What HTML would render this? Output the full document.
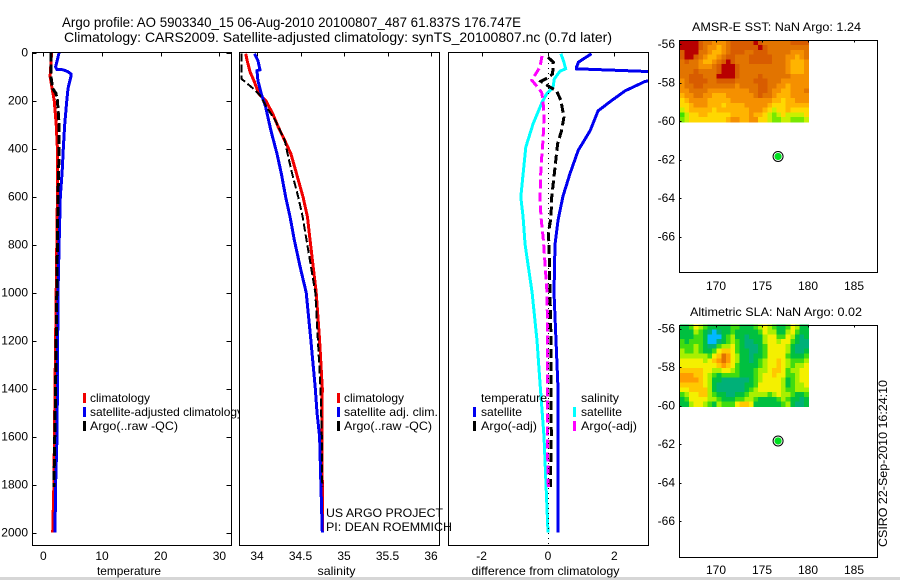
<!DOCTYPE html>
<html>
<head>
<meta charset="utf-8">
<title>Argo profile 5903340_15</title>
<style>
html,body{margin:0;padding:0;background:#fff;width:900px;height:580px;overflow:hidden}
svg{display:block}
text{font-family:"Liberation Sans",sans-serif;font-size:12px;fill:#000}
</style>
</head>
<body>
<svg id="figure" xmlns="http://www.w3.org/2000/svg" width="900" height="580" viewBox="0 0 900 580">
<rect x="0" y="0" width="900" height="580" fill="#fff"/>
<rect x="0" y="577" width="900" height="3" fill="#d6d6d6"/>
<defs>
<clipPath id="clip-temp"><rect x="33" y="53" width="198" height="492"/></clipPath>
<clipPath id="clip-sal"><rect x="240" y="53" width="199" height="492"/></clipPath>
<clipPath id="clip-diff"><rect x="449" y="53" width="199" height="492"/></clipPath>
</defs>
<g id="layer"></g>
<text x="62" y="27" style="font-size:14px" textLength="459" lengthAdjust="spacingAndGlyphs">Argo profile: AO 5903340_15 06-Aug-2010 20100807_487 61.837S 176.747E</text>
<text x="64" y="42" style="font-size:14px" textLength="548" lengthAdjust="spacingAndGlyphs">Climatology: CARS2009. Satellite-adjusted climatology: synTS_20100807.nc (0.7d later)</text>
<text x="326" y="517" textLength="117" lengthAdjust="spacingAndGlyphs">US ARGO PROJECT</text>
<text x="326" y="531" textLength="126" lengthAdjust="spacingAndGlyphs">PI: DEAN ROEMMICH</text>
<text transform="translate(887,547) rotate(-90)" textLength="167" lengthAdjust="spacingAndGlyphs">CSIRO 22-Sep-2010 16:24:10</text>
</svg>
<script>
// ---- profile data (depth in metres) ----
const depthTicks = [0,200,400,600,800,1000,1200,1400,1600,1800,2000];
const tempTicks = [0,10,20,30];
const salTicks = [34,34.5,35,35.5,36];
const salTickLabels = ['34','34.5','35','35.5','36'];
const diffTicks = [-2,0,2];
const lonTicks = [170,175,180,185];
const latTicks = [-56,-58,-60,-62,-64,-66];

const tempClimDepth = [0,50,100,150,200,300,400,600,1000,1400,1800,2000];
const tempClim = [1.4,1.3,1.15,1.5,1.85,2.2,2.4,2.4,2.2,2.0,1.8,1.6];
const tempSatDepth = [0,30,60,70,72,80,90,100,150,200,300,400,500,600,800,1000,1400,1600,1800,2000];
const tempSat = [2.7,2.4,2.1,2.3,3.4,4.2,4.75,4.7,4.2,4.0,3.65,3.4,3.2,2.9,2.7,2.5,2.4,2.33,2.1,2.0];
const tempArgoDepth = [0,100,150,170,200,300,400,500,600,1000,1400,1810];
const tempArgo = [1.3,1.3,1.6,2.15,2.4,2.7,2.7,2.6,2.5,2.3,2.1,1.8];

const salClimDepth = [5,38,80,122,172,200,255,311,367,422,506,603,686,783,1000,1200,1400,1600,1800,2000];
const salClim = [33.87,33.89,33.92,33.97,34.02,34.10,34.18,34.245,34.32,34.39,34.455,34.53,34.58,34.61,34.68,34.72,34.75,34.745,34.75,34.75];
const salSatDepth = [5,33,72,76,117,172,228,325,422,506,603,686,783,900,1000,1200,1400,1500,1600,1800,2000];
const salSat = [33.97,34.01,34.035,34.0,34.01,34.05,34.10,34.16,34.23,34.28,34.33,34.38,34.43,34.50,34.565,34.62,34.67,34.69,34.72,34.735,34.75];
const salArgoDepth = [5,110,118,150,178,228,283,367,436,506,603,686,783,1000,1200,1400,1600,1810];
const salArgo = [33.82,33.82,33.85,33.955,34.035,34.11,34.21,34.32,34.36,34.405,34.475,34.525,34.57,34.67,34.70,34.73,34.745,34.75];

const diffTempDepth = [5,40,60,68,79,95,118,122,160,200,243,325,408,506,600,700,800,1000,1200,1400,1600,2000];
const diffTemp = [1.31,0.92,0.86,0.86,3.0,5,3.0,2.9,2.32,1.92,1.51,1.27,0.91,0.66,0.45,0.3,0.21,0.18,0.24,0.3,0.3,0.3];
const diffSalDepth = [5,40,68,78,110,146,172,208,297,394,506,603,686,800,1000,1200,1400,1600,1800,2000];
const diffSal = [0.39,0.48,0.53,0.36,0.19,0.15,-0.04,-0.18,-0.45,-0.67,-0.75,-0.82,-0.75,-0.69,-0.48,-0.33,-0.23,-0.12,-0.06,0];
const diffArgoTempDepth = [20,40,89,105,120,140,160,200,270,325,380,506,603,686,755,800,1000,1200,1400,1600,1810];
const diffArgoTemp = [0,0.16,0.14,0.0,-0.21,0.01,0.26,0.39,0.48,0.41,0.29,0.19,0.11,0.09,0.01,0.03,0.06,0.09,0.09,0.1,0.07];
const diffArgoSalDepth = [14,60,89,115,140,167,200,270,367,436,506,603,686,783,1000,1200,1400,1600,1810];
const diffArgoSal = [-0.18,-0.24,-0.37,-0.49,-0.34,-0.19,-0.15,-0.12,-0.15,-0.19,-0.22,-0.24,-0.21,-0.14,-0.03,-0.01,-0.01,-0.02,0.01];

const floatLon = 176.747;
const floatLat = -61.837;

// ---- satellite grids: colour level per cell, rows north to south ----
const sstGrid = [
[10,10,10,10,9,8,8,7,7,7,8,9,9,9,9,9,10,9,8,8,8,8,8,8,9,9,9,9],
[10,10,10,10,9,8,7,7,6,7,8,9,9,9,9,9,9,10,9,8,8,8,8,8,8,8,8,8],
[9,10,10,10,8,8,7,6,6,7,8,9,9,9,8,8,9,9,9,8,8,8,8,8,7,7,7,8],
[9,10,10,9,8,7,6,6,7,8,9,9,8,8,8,9,9,9,9,9,8,8,8,7,7,6,7,8],
[8,9,8,8,7,6,6,7,8,9,10,9,8,8,8,9,9,9,9,9,8,8,8,7,6,6,6,7],
[8,8,8,8,7,7,7,8,9,10,10,10,9,8,8,8,8,8,8,8,8,8,8,7,6,6,6,7],
[8,8,8,9,8,8,8,8,9,10,10,10,9,8,8,8,8,8,8,8,8,8,8,7,6,6,6,7],
[8,8,9,9,9,8,8,8,10,10,10,10,9,8,8,8,8,9,8,8,8,8,8,8,7,7,7,7],
[7,8,9,9,9,9,8,8,9,9,9,9,8,8,8,8,9,9,9,8,8,8,7,7,7,7,7,7],
[7,8,8,9,9,8,8,8,8,8,8,8,7,8,8,8,8,9,9,8,8,7,7,6,7,7,7,7],
[7,7,8,8,8,8,7,7,7,7,7,7,7,7,7,8,8,9,9,8,7,7,6,6,7,7,7,8],
[6,7,7,8,8,7,7,6,6,6,7,7,7,7,7,7,8,9,8,8,7,6,6,6,7,7,7,7],
[5,6,7,7,7,7,6,6,6,6,6,7,7,7,7,7,7,7,7,7,6,6,5,6,6,7,7,7],
[5,5,6,7,7,7,6,6,6,5,6,6,6,6,7,7,7,7,7,6,5,5,5,6,6,6,6,6],
[4,5,6,6,6,6,6,5,6,6,6,6,6,6,6,7,7,7,6,5,4,5,5,6,5,5,5,5],
[2,4,5,5,6,6,5,5,5,5,5,6,6,6,6,7,6,6,5,4,3,4,5,4,4,4,4,5],
[3,4,5,5,5,5,5,5,5,5,6,7,7,6,6,7,7,5,5,4,3,3,4,4,3,3,3,4]
];
const slaGrid = [
[2,2,3,5,4,3,2,2,2,2,2,3,3,2,2,2,3,4,5,4,3,2,2,3,5,4,2,2],
[2,2,2,4,3,2,1,0,1,2,2,3,2,2,2,2,2,3,5,4,4,2,2,4,5,3,2,2],
[2,2,2,3,3,2,0,0,0,2,3,4,2,2,1,2,2,2,4,5,5,3,3,5,4,2,1,2],
[3,2,3,3,3,2,0,0,1,2,3,4,3,2,1,1,2,2,4,5,5,4,5,5,3,2,1,1],
[3,3,3,4,3,2,1,1,3,4,4,5,3,2,1,1,1,2,3,5,5,5,5,4,2,1,1,1],
[4,3,3,4,3,2,2,3,5,6,6,5,3,2,2,1,1,2,3,5,5,5,5,4,2,1,1,2],
[4,4,4,4,4,4,3,5,6,8,7,5,4,2,2,1,2,2,3,5,5,5,5,3,2,2,2,3],
[5,5,5,5,5,4,5,6,7,8,7,5,4,2,2,1,2,3,4,5,5,6,5,4,3,3,3,4],
[5,5,5,5,5,5,5,5,6,7,6,5,3,2,2,2,2,3,4,5,5,6,5,4,3,4,4,5],
[6,6,6,6,6,5,5,4,4,5,5,4,3,2,2,2,3,4,4,5,6,6,5,3,4,4,5,5],
[7,7,7,6,6,5,4,3,2,3,3,3,3,2,2,2,3,4,5,5,6,5,5,3,3,4,5,5],
[7,7,7,7,6,5,4,2,2,1,1,1,1,1,1,2,3,4,5,5,5,5,4,2,3,4,5,5],
[6,6,6,6,6,5,4,2,1,1,1,1,1,1,2,2,3,5,5,5,5,5,4,2,3,4,4,5],
[5,5,6,6,6,6,4,2,1,1,1,1,1,1,2,3,4,5,5,5,5,5,4,3,3,4,4,4],
[3,4,5,5,6,6,4,3,2,2,1,1,2,2,3,4,4,4,4,3,4,5,4,4,3,2,2,3],
[2,3,5,5,5,5,4,4,3,2,2,2,3,3,4,4,3,2,2,2,2,3,4,3,2,2,1,2],
[2,2,4,5,5,4,3,2,4,3,3,3,5,6,6,5,2,2,2,2,2,2,3,4,2,1,1,2]
];
const slaColors = ['#00b8ff','#00b078','#00c040','#40dc10','#a8f000','#f4f000','#ffc800','#ff9c00','#e27200','#d24a00','#b40000'];
const sstColors = ['#00b8ff','#00b078','#40e000','#78e800','#c8f000','#ffd800','#ffb400','#f59000','#e27400','#d85c00','#b80000'];
const gridLonStart = 166.08;
const gridLonStep = 0.5;
const gridLatStart = -55.8;
const gridLatStep = -0.25;

// ---- scales ----
const SVGNS = 'http://www.w3.org/2000/svg';
const layer = document.getElementById('layer');
const yDepth = d => 52.5 + 0.24 * d;
const xTemp = v => 43.3 + 5.87 * v;
const xSal = v => 257 + 87 * (v - 34);
const xDiff = v => 548 + 33.2 * v;
const xLon = v => 716 + 9.2 * (v - 170);
const yLatMap1 = v => 44 + 19.27 * (-56 - v);
const yLatMap2 = v => 328.5 + 19.27 * (-56 - v);

function mk(tag, attrs, parent, txt) {
  const el = document.createElementNS(SVGNS, tag);
  for (const k in attrs) el.setAttribute(k, attrs[k]);
  if (txt !== undefined) el.textContent = txt;
  (parent || layer).appendChild(el);
  return el;
}
function linePath(xs, ds, xf) {
  return ds.map((d, i) => (i ? 'L' : 'M') + xf(xs[i]).toFixed(1) + ' ' + yDepth(d).toFixed(1)).join('');
}
function seg(x1, y1, x2, y2, parent) {
  const el = mk('line', {x1, y1, x2, y2, stroke: '#000', 'stroke-width': 1, 'shape-rendering': 'crispEdges'}, parent);
  return el;
}

function profilePanel(name, x0, x1, clipId, xf, xTicks, xLabels, xTitle, titleWidth, showDepth, series, legend) {
  const g = mk('g', {});
  
  
  const bg = mk('rect', {x: x0, y: 52.5, width: x1 - x0, height: 493, fill: '#fff'}, g);
  
  
  if (showDepth) {
    depthTicks.forEach(d => {
      const y = Math.round(yDepth(d)) + 0.5;
      const tl = seg(x0, y, x0 + 4, y, g);
      
      
      const tr = seg(x1 - 5, y, x1, y, g);
      
      
      const lab = mk('text', {x: 28, y: yDepth(d) + 4, 'text-anchor': 'end'}, g, String(d));
      
      
    });
  }
  xTicks.forEach((t, i) => {
    const x = Math.round(xf(t)) + 0.5;
    const tk = seg(x, 52.5, x, 56.5, g);
    
    
    const lab = mk('text', {x: xf(t), y: 560, 'text-anchor': 'middle'}, g, xLabels[i]);
    
    
  });
  const title = mk('text', {x: (x0 + x1) / 2 - 3, y: 575, 'text-anchor': 'middle', textLength: titleWidth, lengthAdjust: 'spacingAndGlyphs'}, g, xTitle);
  
  
  const plot = mk('g', {'clip-path': 'url(#' + clipId + ')'}, g);
  
  
  series.forEach(s => {
    const p = mk('path', {d: linePath(s.vals, s.depth, xf), fill: 'none', stroke: s.color, 'stroke-width': s.w, 'stroke-dasharray': s.dash || 'none', 'stroke-linejoin': 'miter', 'shape-rendering': 'crispEdges'}, plot);
    
    
  });
  const frame = mk('rect', {x: x0, y: 52.5, width: x1 - x0, height: 493, fill: 'none', stroke: '#000', 'stroke-width': 1, 'shape-rendering': 'crispEdges'}, g);
  
  
  legend.forEach(e => {
    if (e.color) {
      const b = mk('rect', {x: e.bx, y: e.y - 9, width: 3, height: 10, fill: e.color}, g);
      
      
    }
    const a = {x: e.tx, y: e.y};
    if (e.len) { a.textLength = e.len; a.lengthAdjust = 'spacingAndGlyphs'; }
    const t = mk('text', a, g, e.text);
    
    
  });
}

function mapPanel(name, top, bottom, yLat, grid, palette, titleText, titleX, titleW, titleY, labelY) {
  const g = mk('g', {});
  
  
  const hm = mk('g', {'shape-rendering': 'crispEdges'}, g);
  
  
  grid.forEach((row, r) => row.forEach((v, c) => {
    const x = xLon(gridLonStart + c * gridLonStep);
    const xn = xLon(gridLonStart + (c + 1) * gridLonStep);
    const y = yLat(gridLatStart + r * gridLatStep);
    const yn = yLat(gridLatStart + (r + 1) * gridLatStep);
    const cell = mk('rect', {x: x.toFixed(2), y: y.toFixed(2), width: (xn - x + 0.4).toFixed(2), height: (yn - y + 0.4).toFixed(2), fill: palette[v]}, hm);
    
    
  }));
  const frame = mk('rect', {x: 679.5, y: top, width: 198, height: bottom - top, fill: 'none', stroke: '#000', 'stroke-width': 1, 'shape-rendering': 'crispEdges'}, g);
  
  
  lonTicks.forEach(t => {
    const x = Math.round(xLon(t)) + 0.5;
    const tk = seg(x, top, x, top + 2, g);
    
    
    const lab = mk('text', {x: xLon(t), y: labelY, 'text-anchor': 'middle'}, g, String(t));
    
    
  });
  latTicks.forEach(t => {
    const y = Math.round(yLat(t)) + 0.5;
    const tk = seg(679.5, y, 681.5, y, g);
    
    
    const lab = mk('text', {x: 675, y: yLat(t) + 4, 'text-anchor': 'end'}, g, String(t));
    
    
  });
  const ttl = mk('text', {x: titleX, y: titleY, textLength: titleW, lengthAdjust: 'spacingAndGlyphs'}, g, titleText);
  
  
  const ring = mk('circle', {cx: xLon(floatLon), cy: yLat(floatLat), r: 5, fill: '#fff', stroke: '#000', 'stroke-width': 1}, g);
  
  
  const dot = mk('circle', {cx: xLon(floatLon), cy: yLat(floatLat), r: 3.6, fill: '#00e020'}, g);
  
  
}

profilePanel('temperature', 32.5, 231.5, 'clip-temp', xTemp, tempTicks, tempTicks.map(String), 'temperature', 64, true, [
  {name: 'temperature-climatology-line', depth: tempClimDepth, vals: tempClim, color: '#f00000', w: 3},
  {name: 'temperature-satellite-line', depth: tempSatDepth, vals: tempSat, color: '#0000f0', w: 3},
  {name: 'temperature-argo-line', depth: tempArgoDepth, vals: tempArgo, color: '#000', w: 3, dash: '9 3'}
], [
  {bx: 83, tx: 90, y: 402, color: '#f00000', text: 'climatology'},
  {bx: 83, tx: 90, y: 416, color: '#0000f0', text: 'satellite-adjusted climatology', len: 153},
  {bx: 83, tx: 90, y: 430, color: '#000', text: 'Argo(..raw -QC)', len: 88}
]);
profilePanel('salinity', 239.5, 439.5, 'clip-sal', xSal, salTicks, salTickLabels, 'salinity', 38, false, [
  {name: 'salinity-climatology-line', depth: salClimDepth, vals: salClim, color: '#f00000', w: 3},
  {name: 'salinity-satellite-line', depth: salSatDepth, vals: salSat, color: '#0000f0', w: 3},
  {name: 'salinity-argo-line', depth: salArgoDepth, vals: salArgo, color: '#000', w: 2, dash: '8 3'}
], [
  {bx: 337, tx: 344, y: 402, color: '#f00000', text: 'climatology'},
  {bx: 337, tx: 344, y: 416, color: '#0000f0', text: 'satellite adj. clim.', len: 94},
  {bx: 337, tx: 344, y: 430, color: '#000', text: 'Argo(..raw -QC)', len: 88}
]);
profilePanel('difference', 448.5, 648.5, 'clip-diff', xDiff, diffTicks, diffTicks.map(String), 'difference from climatology', 148, false, [
  {name: 'temperature-difference-satellite-line', depth: diffTempDepth, vals: diffTemp, color: '#0000f0', w: 3},
  {name: 'salinity-difference-satellite-line', depth: diffSalDepth, vals: diffSal, color: '#00ffff', w: 3},
  {name: 'temperature-difference-argo-line', depth: diffArgoTempDepth, vals: diffArgoTemp, color: '#000', w: 3, dash: '9 4'},
  {name: 'salinity-difference-argo-line', depth: diffArgoSalDepth, vals: diffArgoSal, color: '#ff00ff', w: 3, dash: '9 4'}
], [
  {tx: 481, y: 402, text: 'temperature', len: 66},
  {bx: 473, tx: 481, y: 416, color: '#0000f0', text: 'satellite', len: 41},
  {bx: 473, tx: 481, y: 430, color: '#000', text: 'Argo(-adj)', len: 56},
  {tx: 581, y: 402, text: 'salinity', len: 38},
  {bx: 573, tx: 581, y: 416, color: '#00ffff', text: 'satellite', len: 41},
  {bx: 573, tx: 581, y: 430, color: '#ff00ff', text: 'Argo(-adj)', len: 56}
]);

const zeroLine = mk('line', {x1: 548.5, y1: 53, x2: 548.5, y2: 545, stroke: '#000', 'stroke-width': 1, 'stroke-dasharray': '1 4', 'shape-rendering': 'crispEdges'});



mapPanel('sst-map', 40.5, 272.5, yLatMap1, sstGrid, sstColors, 'AMSR-E SST: NaN  Argo: 1.24', 692, 169, 31, 290);
mapPanel('sla-map', 325.5, 557.5, yLatMap2, slaGrid, slaColors, 'Altimetric SLA: NaN  Argo: 0.02', 690, 172, 316, 574);
</script>
</body>
</html>
